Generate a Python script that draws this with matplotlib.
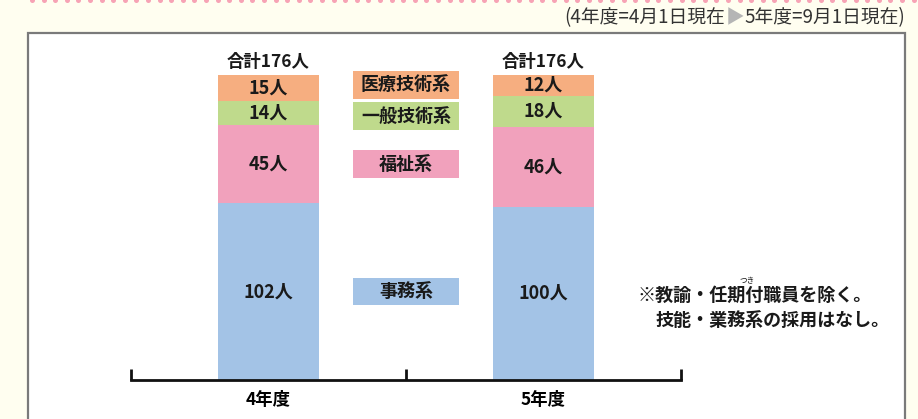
import numpy as np
import matplotlib.pyplot as plt
from matplotlib.patches import Rectangle
from matplotlib.lines import Line2D
from matplotlib.offsetbox import TextArea, HPacker, AnchoredOffsetbox

plt.rcParams['font.family'] = ['Noto Sans CJK JP', 'DejaVu Sans']

# data (people)
years = ['4年度', '5年度']
categories = ['事務系', '福祉系', '一般技術系', '医療技術系']  # bottom -> top
jimu = [102, 100]
fukushi = [45, 46]
ippan = [14, 18]
iryo = [15, 12]
totals = [176, 176]

colors = ['#a3c3e6', '#f1a1bc', '#bfda8c', '#f6ae80']
layers = [jimu, fukushi, ippan, iryo]

W, H = 918, 419
fig = plt.figure(figsize=(W / 100, H / 100), dpi=100, facecolor='#fffef0')


def fx(x):
    return x / W


def fy(y):
    return 1 - y / H


# white panel with gray border
fig.add_artist(Rectangle((fx(28), -0.05), fx(905) - fx(28), fy(33) + 0.05,
                         transform=fig.transFigure, facecolor='white',
                         edgecolor='#7a7a7a', linewidth=1.6, zorder=0))

# pink dotted rule at the top
dots_x = np.arange(32, W, 11.6) / W
fig.add_artist(Line2D(dots_x, np.full_like(dots_x, fy(0.5)), linestyle='none',
                      marker='o', markersize=3.6, color='#f7a3b5',
                      markeredgewidth=0, transform=fig.transFigure))

# date note, top right
parts = [('(4年度=4月1日現在', '#333333'), ('▶', '#b5b5b5'), ('5年度=9月1日現在)', '#333333')]
pack = HPacker(children=[TextArea(t, textprops=dict(color=c, fontsize=13.5)) for t, c in parts],
               pad=0, sep=0, align='center')
fig.add_artist(AnchoredOffsetbox(loc='upper right', child=pack, frameon=False, pad=0,
                                 borderpad=0, bbox_to_anchor=(fx(905), fy(7)),
                                 bbox_transform=fig.transFigure))

# chart
ax = fig.add_axes([fx(131), fy(380), fx(681) - fx(131), fy(75) - fy(380)])
ax.set_facecolor('none')
ax.set_xlim(-0.5, 1.5)
ax.set_ylim(0, max(totals))

x = np.arange(len(years))
bw = 0.364
bottom = np.zeros(len(years))
for vals, col in zip(layers, colors):
    ax.bar(x, vals, bw, bottom=bottom, color=col, edgecolor='none', zorder=2)
    for xi, b, v in zip(x, bottom, vals):
        ax.text(xi, b + v / 2, f'{v}人', ha='center', va='center',
                fontsize=13, fontweight='bold', color='#1a1a1a', zorder=3)
    bottom += vals

for xi, t in zip(x, totals):
    ax.text(xi, t + 7.5, f'合計{t}人', ha='center', va='center',
            fontsize=12.5, fontweight='bold', color='#1a1a1a')

# category labels in the middle, aligned with 4年度 segments
nudge = [0, 0, -1.8, 1.8]
bottom4 = 0
for name, vals, col, dy in zip(categories, layers, colors, nudge):
    cy = bottom4 + vals[0] / 2 + dy
    ax.add_patch(Rectangle((0.309, cy - 8), 0.382, 16, facecolor=col,
                           edgecolor='none', clip_on=False, zorder=2))
    ax.text(0.5, cy, name, ha='center', va='center', fontsize=13,
            fontweight='bold', color='#1a1a1a', zorder=3)
    bottom4 += vals[0]

for s in ['left', 'right', 'top']:
    ax.spines[s].set_visible(False)
ax.spines['bottom'].set_linewidth(2)
ax.spines['bottom'].set_color('#111111')
ax.set_yticks([])
ax.set_xticks([-0.5, 0.5, 1.5])
ax.tick_params(axis='x', which='major', direction='in', length=8, width=2,
               color='#111111', labelbottom=False)
ax.set_xticks(x, minor=True)
ax.set_xticklabels(years, minor=True)
ax.tick_params(axis='x', which='minor', length=0, pad=8, labelsize=12.5)
for lab in ax.get_xticklabels(minor=True):
    lab.set_fontweight('bold')

# footnote
fig.text(fx(637), fy(295), '※教諭・任期付職員を除く。', ha='left', va='center',
         fontsize=13, fontweight='bold', color='#1a1a1a')
fig.text(fx(655), fy(320), '技能・業務系の採用はなし。', ha='left', va='center',
         fontsize=13, fontweight='bold', color='#1a1a1a')
fig.text(fx(747), fy(281), 'つき', ha='center', va='center', fontsize=5.5,
         color='#1a1a1a')

fig.savefig('out.png', dpi=100, facecolor=fig.get_facecolor())
